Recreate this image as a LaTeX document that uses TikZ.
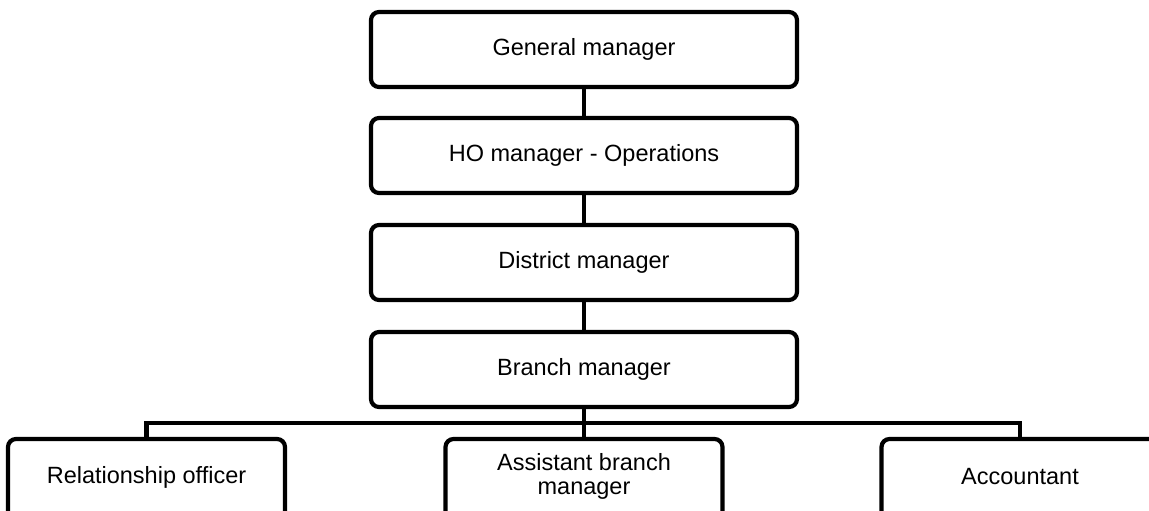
\documentclass[tikz,border=0pt]{standalone}
\usepackage{fontspec}
\setmainfont{Liberation Sans}
\newcommand{\liftup}[1]{\raisebox{4pt}[\height][\depth]{#1}}
\begin{document}
\begin{tikzpicture}[x=1pt,y=-1pt,
  orgbox/.style={draw=black, line width=4.2pt, rounded corners=8pt, fill=white,
    minimum width=426pt, minimum height=75pt, inner sep=0pt,
    font=\fontsize{23.5}{26}\selectfont, align=center},
  lowbox/.style={orgbox, minimum width=277pt, minimum height=84pt},
  link/.style={line width=4.2pt}]
\useasboundingbox (0,0) rectangle (1149,511);
\clip (0,0) rectangle (1149,511);
\node[orgbox] (gm) at (584,49.5) {General manager};
\node[orgbox] (ho) at (584,155.5) {HO manager - Operations};
\node[orgbox] (dm) at (584,262.5) {District manager};
\node[orgbox] (bm) at (584,369.5) {Branch manager};
\node[lowbox] (ro) at (146.5,481) {\liftup{Relationship officer}};
\node[lowbox] (ab) at (584,481) {\liftup{\begin{tabular}{@{}c@{}}Assistant branch\\[-2pt]manager\end{tabular}}};
\node[lowbox] (ac) at (1020,481) {\liftup{Accountant}};
\coordinate (bus) at (584,423);
\draw[link] (gm.south) -- (ho.north);
\draw[link] (ho.south) -- (dm.north);
\draw[link] (dm.south) -- (bm.north);
\draw[link] (bm.south) -- (ab.north);
\draw[link] (ro.north) |- (bus) -| (ac.north);
\end{tikzpicture}
\end{document}
